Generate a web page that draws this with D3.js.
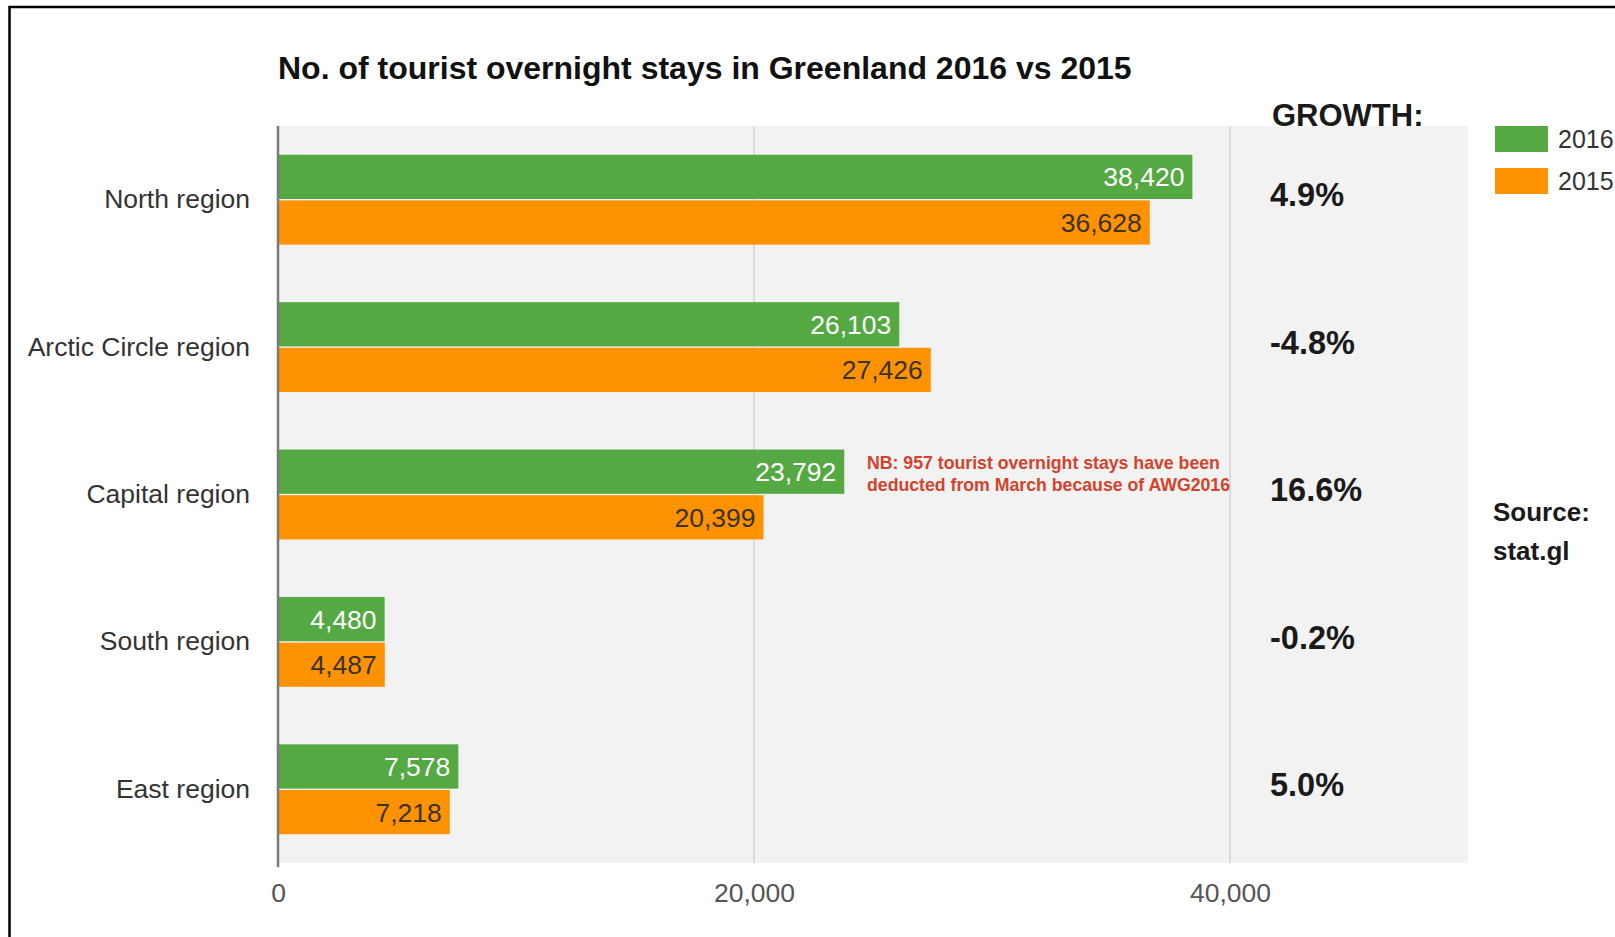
<!DOCTYPE html>
<html>
<head>
<meta charset="utf-8">
<script src="https://cdnjs.cloudflare.com/ajax/libs/d3/7.8.5/d3.min.js"></script>
<style>
  html, body { margin: 0; padding: 0; background: #fff; }
  svg { display: block; font-family: "Liberation Sans", Arial, Helvetica, sans-serif; }
</style>
</head>
<body>
<svg id="chart" width="1615" height="937"></svg>
<script>
// Tourist overnight stays by region, 2016 vs 2015
const regions = ["North region", "Arctic Circle region", "Capital region", "South region", "East region"];
const stays2016 = [38420, 26103, 23792, 4480, 7578];
const stays2015 = [36628, 27426, 20399, 4487, 7218];
const growth = ["4.9%", "-4.8%", "16.6%", "-0.2%", "5.0%"];
const seriesNames = ["2016", "2015"];
const seriesColors = ["#55a943", "#ff9200"];
const xTicks = [0, 20000, 40000];

const svg = d3.select("#chart");

// plot frame
const plot = { left: 278, right: 1468, top: 126, bottom: 863 };

// outer frame line
svg.append("rect")
  .attr("x", 9.5).attr("y", 7)
  .attr("width", 1700).attr("height", 1000)
  .attr("fill", "none").attr("stroke", "#000").attr("stroke-width", 2.5);

// title
svg.append("text")
  .attr("x", 278).attr("y", 79)
  .attr("font-size", 32).attr("font-weight", "bold").attr("fill", "#111")
  .text("No. of tourist overnight stays in Greenland 2016 vs 2015");

const x = d3.scaleLinear().domain([0, 50000]).range([plot.left, plot.right]);
const y = d3.scaleBand().domain(regions).range([plot.top, plot.bottom])
  .paddingInner(0.39).paddingOuter(0.195);
const ySeries = d3.scaleBand().domain(seriesNames).range([0, y.bandwidth()]).paddingInner(0.03);

// background
svg.append("rect")
  .attr("x", plot.left).attr("y", plot.top)
  .attr("width", plot.right - plot.left).attr("height", plot.bottom - plot.top)
  .attr("fill", "#f2f2f2");

// vertical gridlines + tick labels
const xAxis = d3.axisBottom(x).tickValues(xTicks).tickFormat(d3.format(",")).tickSize(0).tickPadding(20);
const gx = svg.append("g").attr("transform", `translate(0,${plot.bottom})`).call(xAxis);
gx.select(".domain").remove();
gx.selectAll("text").attr("font-size", 26.5).attr("fill", "#555").attr("font-family", null);

svg.append("g").selectAll("line")
  .data(xTicks.filter(d => d > 0))
  .join("line")
  .attr("x1", d => x(d)).attr("x2", d => x(d))
  .attr("y1", plot.top).attr("y2", plot.bottom)
  .attr("stroke", "#d4d4d4").attr("stroke-width", 1.5);

// category labels
const yAxis = d3.axisLeft(y).tickSize(0).tickPadding(28);
const gy = svg.append("g").attr("transform", `translate(${plot.left},0)`).call(yAxis);
gy.select(".domain").remove();
gy.selectAll("text").attr("font-size", 26.5).attr("fill", "#333").attr("font-family", null);

// bars
const rows = regions.map((r, i) => ({ region: r, values: [stays2016[i], stays2015[i]] }));
const groups = svg.append("g").selectAll("g")
  .data(rows).join("g")
  .attr("transform", d => `translate(0,${y(d.region)})`);

groups.selectAll("rect")
  .data(d => d.values.map((v, k) => ({ series: seriesNames[k], value: v, k })))
  .join("rect")
  .attr("x", x(0))
  .attr("y", d => ySeries(d.series))
  .attr("width", d => x(d.value) - x(0))
  .attr("height", ySeries.bandwidth())
  .attr("fill", d => seriesColors[d.k]);

groups.selectAll("text.val")
  .data(d => d.values.map((v, k) => ({ series: seriesNames[k], value: v, k })))
  .join("text")
  .attr("class", "val")
  .attr("x", d => x(d.value) - 8)
  .attr("y", d => ySeries(d.series) + ySeries.bandwidth() / 2)
  .attr("dy", "0.36em")
  .attr("text-anchor", "end")
  .attr("font-size", 26.5)
  .attr("fill", d => d.k === 0 ? "#ffffff" : "#3a3328")
  .text(d => d3.format(",")(d.value));

// zero axis line
svg.append("line")
  .attr("x1", x(0)).attr("x2", x(0))
  .attr("y1", plot.top).attr("y2", plot.bottom + 4)
  .attr("stroke", "#7a7a7a").attr("stroke-width", 2.5);

// growth column
svg.append("text")
  .attr("x", 1272).attr("y", 126)
  .attr("font-size", 31).attr("font-weight", "bold").attr("fill", "#1a1a1a")
  .text("GROWTH:");

svg.append("g").selectAll("text")
  .data(regions)
  .join("text")
  .attr("x", 1270)
  .attr("y", (d, i) => y(d) + y.bandwidth() / 2 - 5)
  .attr("dy", "0.36em")
  .attr("font-size", 32.5).attr("font-weight", "bold").attr("fill", "#1a1a1a")
  .text((d, i) => growth[i]);

// legend
const legend = svg.append("g").attr("transform", "translate(1495,126)");
seriesNames.forEach((s, i) => {
  const g = legend.append("g").attr("transform", `translate(0,${i * 42})`);
  g.append("rect").attr("width", 53).attr("height", 26).attr("fill", seriesColors[i]);
  g.append("text").attr("x", 63).attr("y", 13).attr("dy", "0.36em")
    .attr("font-size", 25).attr("fill", "#333").text(s);
});

// source note
svg.append("text")
  .attr("x", 1493).attr("y", 521)
  .attr("font-size", 26).attr("font-weight", "bold").attr("fill", "#1a1a1a")
  .text("Source:");
svg.append("text")
  .attr("x", 1493).attr("y", 560)
  .attr("font-size", 26).attr("font-weight", "bold").attr("fill", "#1a1a1a")
  .text("stat.gl");

// annotation next to the Capital region bar
const note = svg.append("text")
  .attr("x", 867).attr("y", 469)
  .attr("font-size", 17.7).attr("font-weight", "bold").attr("fill", "#d3432c");
note.append("tspan").attr("x", 867).attr("dy", 0).text("NB: 957 tourist overnight stays have been");
note.append("tspan").attr("x", 867).attr("dy", 21.5).text("deducted from March because of AWG2016");
</script>
</body>
</html>
